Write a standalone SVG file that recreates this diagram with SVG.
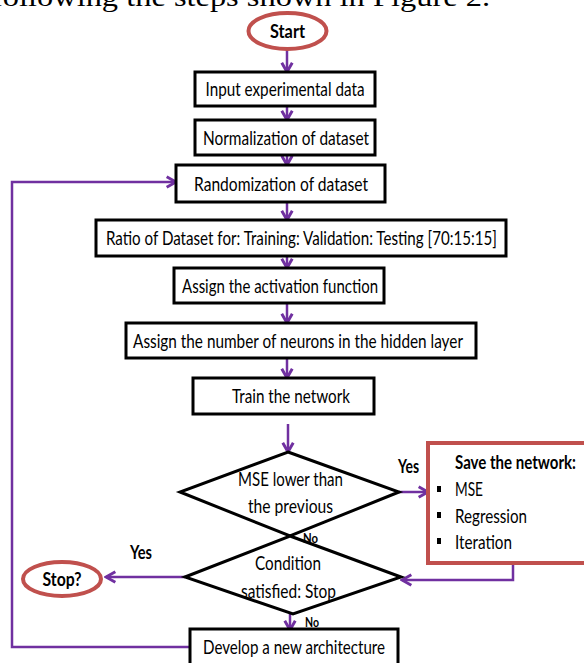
<svg xmlns="http://www.w3.org/2000/svg" width="584" height="663" viewBox="0 0 584 663">
<style>
.box{fill:#fff;stroke:#000;stroke-width:3}
.dia{fill:#fff;stroke:#000;stroke-width:3}
.term{fill:#fff;stroke:#C0504D;stroke-width:4}
.t{font-family:Lato,"Open Sans","Liberation Sans",sans-serif;font-size:20px;fill:#000;text-anchor:middle}
.tl{font-family:Lato,"Open Sans","Liberation Sans",sans-serif;font-size:20px;fill:#000}
.b{font-family:Lato,"Open Sans","Liberation Sans",sans-serif;font-size:18px;font-weight:bold;fill:#000}
.small{font-family:Lato,"Open Sans","Liberation Sans",sans-serif;font-size:14px;font-weight:bold;fill:#000}
.c{fill:none;stroke:#7030A0;stroke-width:2.5;marker-end:url(#ah)}
</style>
<defs>
<marker id="ah" markerUnits="userSpaceOnUse" markerWidth="14" markerHeight="14" viewBox="-1 -1 12 12" refX="9" refY="5" orient="auto">
<path d="M1,0.5 L9,5 L1,9.5" fill="none" stroke="#7030A0" stroke-width="2.5"/>
</marker>
</defs>
<rect width="584" height="663" fill="#fff"/>
<text x="-8" y="6" font-family="Liberation Serif,serif" font-size="28" textLength="498" lengthAdjust="spacingAndGlyphs">following the steps shown in Figure 2.</text>

<g id="connectors">
<path class="c" d="M287,50 L287,72"/>
<path class="c" d="M287,106 L287,120"/>
<path class="c" d="M287,155 L287,165"/>
<path class="c" d="M287,202 L287,220"/>
<path class="c" d="M287,256 L287,268"/>
<path class="c" d="M287,303 L287,323"/>
<path class="c" d="M287,358 L287,378"/>
<path class="c" d="M288,424 L288,452"/>
<path class="c" d="M399,492 L428,492"/>
<path class="c" d="M288,530 L288,548"/>
<path class="c" d="M513,564 L513,580 L402,580"/>
<path class="c" d="M185,577 L106,577"/>
<path class="c" d="M290,614 L290,630"/>
<path class="c" d="M190,647 L12,647 L12,182 L176,182"/>
</g>

<g id="start"><ellipse class="term" cx="287.5" cy="31" rx="39" ry="18"/><text class="b" x="287.5" y="38" text-anchor="middle" textLength="35" lengthAdjust="spacingAndGlyphs">Start</text></g>
<g id="input"><rect class="box" x="195" y="72" width="180" height="34"/><text class="t" x="285" y="96" textLength="159" lengthAdjust="spacingAndGlyphs">Input experimental data</text></g>
<g id="normalization"><rect class="box" x="195" y="120" width="180" height="35"/><text class="t" x="286" y="145" textLength="166" lengthAdjust="spacingAndGlyphs">Normalization of dataset</text></g>
<g id="randomization"><rect class="box" x="176" y="165" width="209" height="37"/><text class="t" x="281" y="191" textLength="174" lengthAdjust="spacingAndGlyphs">Randomization of  dataset</text></g>
<g id="ratio"><rect class="box" x="96" y="220" width="410" height="36"/><text class="t" x="301.5" y="245" textLength="391" lengthAdjust="spacingAndGlyphs">Ratio of Dataset for: Training: Validation: Testing [70:15:15]</text></g>
<g id="activation"><rect class="box" x="174" y="268" width="210" height="35"/><text class="t" x="280" y="293" textLength="196" lengthAdjust="spacingAndGlyphs">Assign the activation function</text></g>
<g id="neurons"><rect class="box" x="126" y="323" width="350" height="35"/><text class="t" x="298" y="348" textLength="330" lengthAdjust="spacingAndGlyphs">Assign the  number of neurons in the hidden layer</text></g>
<g id="train"><rect class="box" x="193" y="378" width="181" height="36"/><text class="t" x="291" y="403" textLength="118" lengthAdjust="spacingAndGlyphs">Train the network</text></g>

<g id="mse-decision"><polygon class="dia" points="288,452 399,492 290,536 180,492"/>
<text class="t" x="290.5" y="486" textLength="105" lengthAdjust="spacingAndGlyphs">MSE lower than</text>
<text class="t" x="290.5" y="513" textLength="85" lengthAdjust="spacingAndGlyphs">the previous</text></g>

<g id="condition"><polygon class="dia" points="290,536 401,577 293,614 185,577"/>
<text class="t" x="288" y="570" textLength="66" lengthAdjust="spacingAndGlyphs">Condition</text>
<text class="t" x="288.5" y="598" textLength="95" lengthAdjust="spacingAndGlyphs">satisfied: Stop</text></g>

<g id="save"><rect class="term" x="428" y="443" width="170" height="120"/>
<text class="b" x="455" y="469" textLength="121" lengthAdjust="spacingAndGlyphs">Save the network:</text>
<rect x="437" y="486" width="4" height="6" fill="#000"/>
<rect x="437" y="512" width="4" height="6" fill="#000"/>
<rect x="437" y="538" width="4" height="6" fill="#000"/>
<text class="tl" x="455" y="496" textLength="28" lengthAdjust="spacingAndGlyphs">MSE</text>
<text class="tl" x="455" y="523" textLength="72" lengthAdjust="spacingAndGlyphs">Regression</text>
<text class="tl" x="455" y="549" textLength="57" lengthAdjust="spacingAndGlyphs">Iteration</text></g>

<g id="stop"><ellipse class="term" cx="62" cy="579" rx="39" ry="17"/><text class="b" x="62" y="586" text-anchor="middle" textLength="39" lengthAdjust="spacingAndGlyphs">Stop?</text></g>

<g id="develop"><rect class="box" x="190" y="629" width="208" height="36"/><text class="t" x="294" y="654" textLength="182" lengthAdjust="spacingAndGlyphs">Develop a new architecture</text></g>

<g id="labels">
<text class="b" x="398" y="473" textLength="21" lengthAdjust="spacingAndGlyphs">Yes</text>
<text class="b" x="130" y="559" textLength="22" lengthAdjust="spacingAndGlyphs">Yes</text>
<text class="small" x="303" y="543" textLength="15" lengthAdjust="spacingAndGlyphs">No</text>
<text class="small" x="305" y="627" textLength="14" lengthAdjust="spacingAndGlyphs">No</text>
</g>
</svg>
